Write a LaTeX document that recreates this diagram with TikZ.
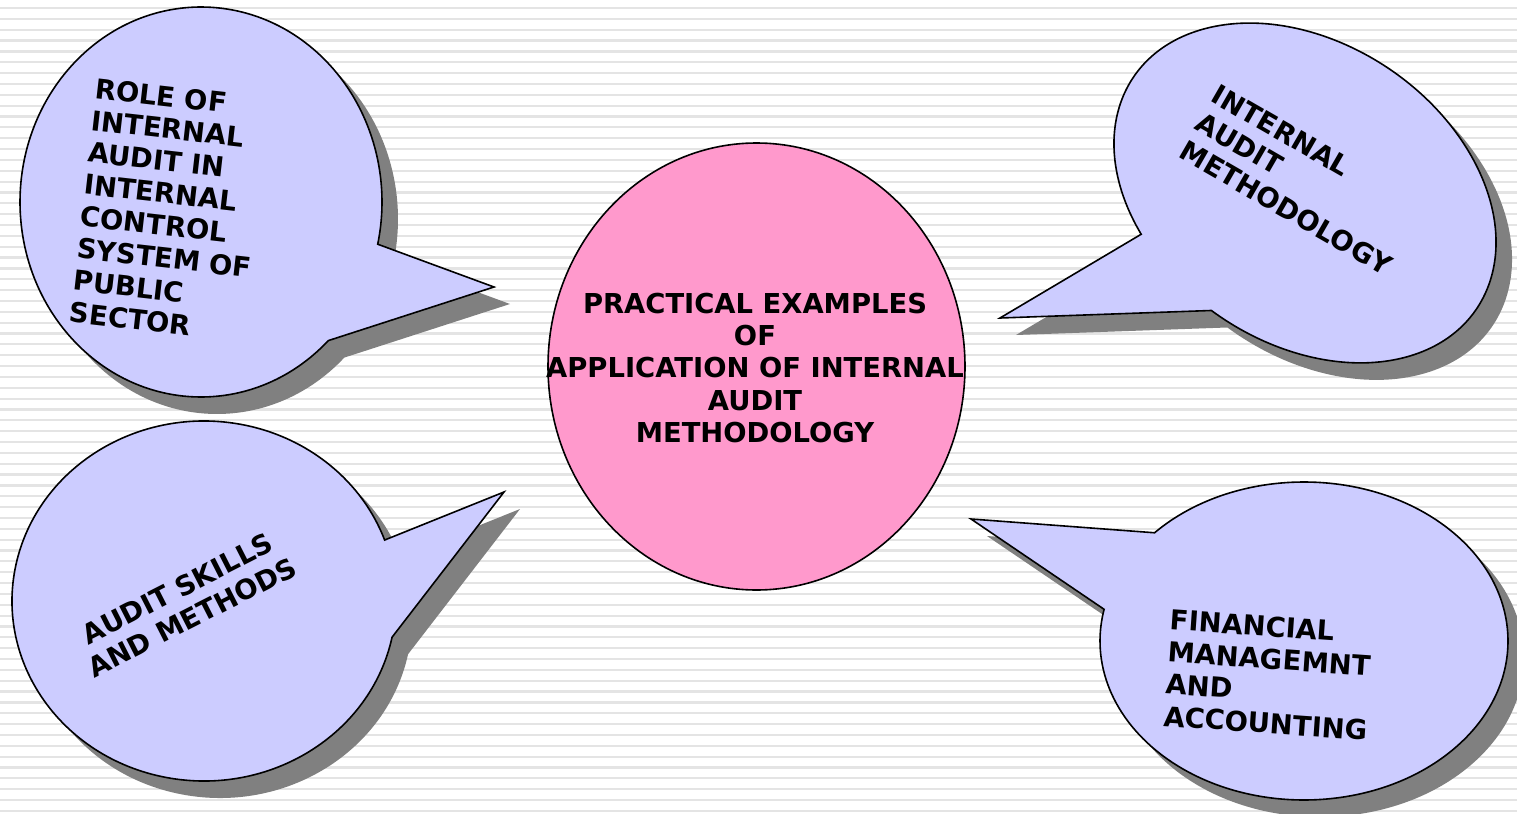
\documentclass[tikz,border=0pt]{standalone}
\usepackage{fontspec}
\setmainfont{DejaVu Sans}
\usetikzlibrary{shadows}
\definecolor{bubblefill}{HTML}{CCCCFF}
\definecolor{centrefill}{HTML}{FF99CC}
\definecolor{stripegray}{HTML}{E4E4E4}
\tikzset{
  stripe/.style={draw=stripegray, line width=1.1pt},
  bubble/.style={draw=black, line width=0.8pt, fill=bubblefill,
    drop shadow={shadow xshift=8pt, shadow yshift=-8.5pt, fill=black!50, opacity=1}},
  centre/.style={draw=black, line width=0.8pt, fill=centrefill},
  bubbletext/.style={font=\fontsize{13.7}{16.1}\selectfont\bfseries, inner sep=0pt}
}
\begin{document}
\begin{tikzpicture}[x=0.5pt, y=-0.5pt]
\useasboundingbox (0,0) rectangle (1517,814);
% background
\foreach \k in {0,...,74}
  \draw[stripe] (0,8+10.85*\k) -- (1517,8+10.85*\k);
% tips of the callouts
\coordinate (tipA) at (494,287);
\coordinate (tipB) at (1000,318);
\coordinate (tipC) at (504,492);
\coordinate (tipD) at (971,519);
% top left
\draw[bubble, shift={(201,202)}] (45.3:181 and 195)
  arc[start angle=45.3, end angle=372.5, x radius=181, y radius=195] -- (tipA) -- cycle;
\node[bubbletext, align=left, rotate=-6.5] (role) at (170,210)
  {ROLE OF\\INTERNAL\\AUDIT IN\\INTERNAL\\CONTROL\\SYSTEM OF\\PUBLIC\\SECTOR};
% top right
\draw[bubble, shift={(1305,193)}, rotate=-34] (123:207 and 150)
  arc[start angle=123, end angle=453.3, x radius=207, y radius=150] -- (tipB) -- cycle;
\node[bubbletext, align=left, rotate=-30] (method) at (1302,180)
  {INTERNAL\\AUDIT\\METHODOLOGY};
% bottom left
\draw[bubble, shift={(204,601)}] (11.6:192 and 180)
  arc[start angle=11.6, end angle=340.2, x radius=192, y radius=180] -- (tipC) -- cycle;
\node[bubbletext, align=center, rotate=27] (skills) at (185,603)
  {AUDIT SKILLS\\AND METHODS};
% bottom right
\draw[bubble, shift={(1304,641)}] (222.9:204 and 159)
  arc[start angle=222.9, end angle=551.5, x radius=204, y radius=159] -- (tipD) -- cycle;
\node[bubbletext, align=left, rotate=-4] (finance) at (1269,675)
  {FINANCIAL\\MANAGEMNT\\AND\\ACCOUNTING};
% centre
\draw[centre] (756.5,366.5) ellipse [x radius=208.5, y radius=223.5];
\node[bubbletext, align=center] (title) at (755,368)
  {PRACTICAL EXAMPLES\\OF\\APPLICATION OF INTERNAL\\AUDIT\\METHODOLOGY};
\end{tikzpicture}
\end{document}
